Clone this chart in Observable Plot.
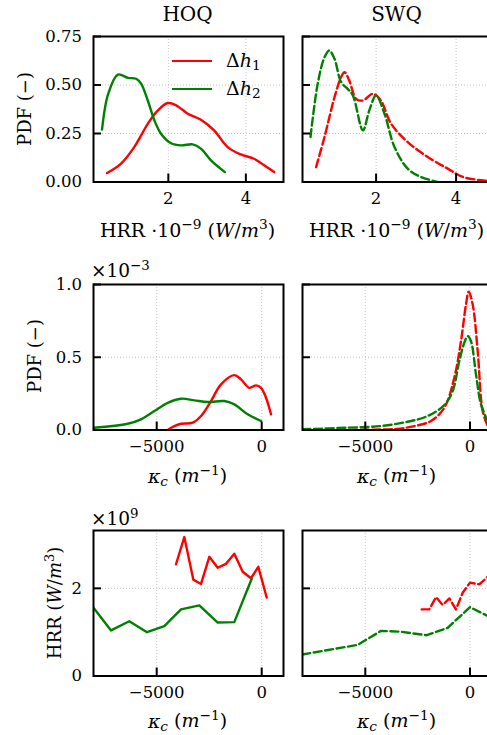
<!DOCTYPE html>
<html><head><meta charset="utf-8">
<script src="https://cdn.jsdelivr.net/npm/d3@7"></script>
<script src="https://cdn.jsdelivr.net/npm/@observablehq/plot@0.6"></script>
<style>
html,body{margin:0;padding:0;background:#fff;overflow:hidden}
#fig{position:relative;width:487px;height:735px;overflow:hidden;font-family:"DejaVu Serif",serif;color:#000}
#fig svg{position:absolute;overflow:visible}
.lbl{position:absolute;white-space:nowrap;line-height:1;transform:translate(-50%,-50%)}
.rot{transform:translate(-50%,-50%) rotate(-90deg)}
.it{font-style:italic}
.sup{font-size:0.72em;vertical-align:0.55em}
.sub{font-size:0.72em;vertical-align:-0.25em}
.leg{position:absolute;height:2.4px}
</style></head>
<body><div id="fig"></div>
<script>
// ---------- data ----------
const seriesNames = ["Δh1", "Δh2"];
const colors = ["#ff0000", "#008000"];
const columnTitles = ["HOQ", "SWQ"];

// Row 1: PDF of HRR (x in 1e9 W/m^3)
const hoqHrrX_h1 = [0.42,0.78,1.12,1.47,1.73,1.98,2.15,2.33,2.5,2.84,3.18,3.53,3.87,4.21,4.47,4.73];
const hoqHrrPdf_h1 = [0.046,0.095,0.18,0.30,0.369,0.407,0.40,0.378,0.352,0.321,0.266,0.18,0.142,0.12,0.086,0.051];
const hoqHrrX_h2 = [0.29,0.45,0.70,0.955,1.17,1.30,1.47,1.64,1.81,2.07,2.33,2.63,2.84,3.10,3.46];
const hoqHrrPdf_h2 = [0.27,0.455,0.554,0.537,0.532,0.506,0.42,0.318,0.249,0.20,0.189,0.194,0.172,0.112,0.051];
const swqHrrX_h1 = [0.5,0.71,0.96,1.125,1.21,1.33,1.5,1.67,1.92,2.12,2.375,2.79,3.29,3.79,4.17,4.625,5.0];
const swqHrrPdf_h1 = [0.077,0.232,0.437,0.54,0.566,0.523,0.429,0.42,0.455,0.42,0.30,0.206,0.129,0.069,0.026,0.009,0.002];
const swqHrrX_h2 = [0.36,0.54,0.71,0.83,0.96,1.125,1.29,1.42,1.67,1.83,2.0,2.21,2.46,2.79,3.12,3.54];
const swqHrrPdf_h2 = [0.232,0.506,0.643,0.678,0.635,0.515,0.48,0.446,0.266,0.369,0.446,0.352,0.18,0.069,0.026,0.0];

// Row 2: PDF of curvature kappa_c (PDF in 1e-3)
const hoqKcX_h1 = [-4476,-4160,-3843,-3286,-2890,-2414,-1938,-1305,-986,-590,-271,-33,205,443];
const hoqKcPdf_h1 = [0,0.027,0.043,0.05,0.096,0.199,0.314,0.377,0.348,0.29,0.307,0.29,0.222,0.108];
const hoqKcX_h2 = [-8000,-6380,-5748,-5114,-4476,-3843,-3210,-2571,-1781,-1305,-667,-33];
const hoqKcPdf_h2 = [0.015,0.043,0.073,0.13,0.187,0.215,0.204,0.192,0.199,0.176,0.108,0.062];
const swqKcX_h1 = [-8000,-5000,-3500,-2660,-1862,-1227,-750,-430,-191,-62,129,368,607,845];
const swqKcPdf_h1 = [0,0.002,0.008,0.027,0.062,0.153,0.359,0.611,0.863,0.95,0.863,0.542,0.13,0.027];
const swqKcX_h2 = [-8000,-5840,-4250,-2975,-2020,-1227,-826,-511,-272,-110,48,286,525,845];
const swqKcPdf_h2 = [0.005,0.016,0.027,0.057,0.096,0.172,0.268,0.474,0.6,0.645,0.61,0.382,0.176,0.062];

// Row 3: conditional mean HRR vs kappa_c (HRR in 1e9)
const hoqCondX_h1 = [-4081,-3686,-3257,-2890,-2495,-2095,-1700,-1305,-905,-510,-162,238];
const hoqCondHrr_h1 = [2.55,3.17,2.2,2.1,2.72,2.47,2.56,2.79,2.38,2.23,2.49,1.79];
const hoqCondX_h2 = [-8000,-7176,-6305,-5462,-4638,-3843,-2971,-2095,-1305,-476];
const hoqCondHrr_h2 = [1.55,1.04,1.25,1.0,1.14,1.52,1.61,1.22,1.23,2.22];
const swqCondX_h1 = [-2307,-1943,-1623,-1304,-986,-669,-349,0,444,845];
const swqCondHrr_h1 = [1.52,1.52,1.8,1.62,1.77,1.52,1.9,2.13,2.09,2.26];
const swqCondX_h2 = [-8008,-5365,-4250,-3295,-2068,-1065,0,845];
const swqCondHrr_h2 = [0.49,0.71,1.03,1.01,0.93,1.10,1.57,1.37];

// ticks
const hrrTicks = [2, 4];
const pdfHrrTicks = [0, 0.25, 0.5, 0.75];
const kcTicks = [-5000, 0];
const pdfKcTicks = [0, 0.5, 1.0];
const condTicks = [0, 2];

// ---------- drawing ----------
const fig = document.getElementById("fig");
const FONT = '"DejaVu Serif", serif';
const FW = 190, FH = 145.5;
const ML = 70, MR = 6, MT = 6, MB = 36;
const TICKFS = 16.5, LABFS = 19;
const fmtMinus = d => (d < 0 ? "\u2212" + Math.abs(d) : String(d));

function pts(xs, ys) { return xs.map((x, i) => ({x, y: ys[i]})); }

function panel({fx, fy, xDomain, yDomain, xTicks, yTicks, yFmt, showY, lines, dashed, curve}) {
  const marks = [
    Plot.gridX(xTicks, {stroke: "#b8b8b8", strokeOpacity: 1, strokeWidth: 0.8, strokeDasharray: "1,2"}),
    Plot.gridY(yTicks, {stroke: "#b8b8b8", strokeOpacity: 1, strokeWidth: 0.8, strokeDasharray: "1,2"}),
  ];
  lines.forEach((l, i) => {
    marks.push(Plot.line(pts(l[0], l[1]), {x: "x", y: "y", stroke: colors[i], strokeWidth: 2.4,
      curve, clip: true, strokeDasharray: dashed ? "8,3.6" : null}));
  });
  marks.push(Plot.tickX(xTicks, {x: d => d, insetTop: FH - 8, stroke: "black", strokeWidth: 2}));
  marks.push(Plot.tickY(yTicks, {y: d => d, insetRight: FW - 8, stroke: "black", strokeWidth: 2}));
  marks.push(Plot.axisX(xTicks, {tickSize: 0, tickPadding: 10.5, tickFormat: fmtMinus, label: null, fontSize: TICKFS}));
  if (showY) marks.push(Plot.axisY(yTicks, {tickSize: 0, tickPadding: 11.5, tickFormat: yFmt, label: null, fontSize: TICKFS}));
  marks.push(Plot.frame({stroke: "black", strokeWidth: 2}));
  const svg = Plot.plot({
    width: FW + ML + MR, height: FH + MT + MB,
    marginLeft: ML, marginRight: MR, marginTop: MT, marginBottom: MB,
    style: {fontFamily: FONT, fontSize: TICKFS + "px", background: "transparent", color: "black"},
    x: {domain: xDomain, label: null},
    y: {domain: yDomain, label: null, axis: showY ? undefined : null},
    marks
  });
  svg.style.left = (fx - ML) + "px";
  svg.style.top = (fy - MT) + "px";
  fig.appendChild(svg);
}

function label(html, cx, cy, size, rot) {
  const d = document.createElement("div");
  d.className = "lbl" + (rot ? " rot" : "");
  d.style.left = cx + "px"; d.style.top = cy + "px";
  d.style.fontSize = size + "px";
  d.innerHTML = html;
  fig.appendChild(d);
}
function labelLeft(html, x, cy, size) {
  const d = document.createElement("div");
  d.className = "lbl";
  d.style.transform = "translate(0,-50%)";
  d.style.left = x + "px"; d.style.top = cy + "px";
  d.style.fontSize = size + "px";
  d.innerHTML = html;
  fig.appendChild(d);
}

const colX = [92.5, 301.5];
const rowY = [36, 283.5, 530];

// Row 1
panel({fx: colX[0], fy: rowY[0], xDomain: [0.07, 4.97], yDomain: [0, 0.75], xTicks: hrrTicks, yTicks: pdfHrrTicks,
  yFmt: d => d.toFixed(2), showY: true, lines: [[hoqHrrX_h1, hoqHrrPdf_h1], [hoqHrrX_h2, hoqHrrPdf_h2]], dashed: false, curve: "catmull-rom"});
panel({fx: colX[1], fy: rowY[0], xDomain: [0.16, 4.91], yDomain: [0, 0.75], xTicks: hrrTicks, yTicks: pdfHrrTicks,
  showY: false, lines: [[swqHrrX_h1, swqHrrPdf_h1], [swqHrrX_h2, swqHrrPdf_h2]], dashed: true, curve: "catmull-rom"});
// Row 2
panel({fx: colX[0], fy: rowY[1], xDomain: [-8010, 1038], yDomain: [0, 1], xTicks: kcTicks, yTicks: pdfKcTicks,
  yFmt: d => d.toFixed(1), showY: true, lines: [[hoqKcX_h1, hoqKcPdf_h1], [hoqKcX_h2, hoqKcPdf_h2]], dashed: false, curve: "catmull-rom"});
panel({fx: colX[1], fy: rowY[1], xDomain: [-7999, 1075], yDomain: [0, 1], xTicks: kcTicks, yTicks: pdfKcTicks,
  showY: false, lines: [[swqKcX_h1, swqKcPdf_h1], [swqKcX_h2, swqKcPdf_h2]], dashed: true, curve: "catmull-rom"});
// Row 3
panel({fx: colX[0], fy: rowY[2], xDomain: [-8010, 1038], yDomain: [0, 3.32], xTicks: kcTicks, yTicks: condTicks,
  yFmt: d => String(d), showY: true, lines: [[hoqCondX_h1, hoqCondHrr_h1], [hoqCondX_h2, hoqCondHrr_h2]], dashed: false, curve: "linear"});
panel({fx: colX[1], fy: rowY[2], xDomain: [-7999, 1075], yDomain: [0, 3.32], xTicks: kcTicks, yTicks: condTicks,
  showY: false, lines: [[swqCondX_h1, swqCondHrr_h1], [swqCondX_h2, swqCondHrr_h2]], dashed: true, curve: "linear"});

// Titles
label(columnTitles[0], 187.5, 14, 20);
label(columnTitles[1], 396.5, 14, 20);

// x labels
const hrrLab = 'HRR &middot;10<span class="sup">\u22129</span> (<span class="it">W</span>/<span class="it">m</span><span class="sup">3</span>)';
const kcLab = '<span class="it">\u03ba<span class="sub">c</span></span> (<span class="it">m</span><span class="sup">\u22121</span>)';
label(hrrLab, 187.5, 229, LABFS);
label(hrrLab, 396.5, 229, LABFS);
label(kcLab, 187.5, 476, LABFS);
label(kcLab, 396.5, 476, LABFS);
label(kcLab, 187.5, 721, LABFS);
label(kcLab, 396.5, 721, LABFS);

// y labels
label('PDF (\u2212)', 25, 108.75, 18, true);
label('PDF (\u2212)', 35, 356, 18, true);
label('HRR (<span class="it">W</span>/<span class="it">m</span><span class="sup">3</span>)', 54, 602.75, 18, true);

// offset multipliers
labelLeft('\u00d710<span class="sup">\u22123</span>', 91, 270, 18.5);
labelLeft('\u00d710<span class="sup">9</span>', 91, 518, 18.5);

// legend
const legY = [61, 89];
legY.forEach((y, i) => {
  const bar = document.createElement("div");
  bar.className = "leg";
  bar.style.left = "172px"; bar.style.top = (y - 1.2) + "px"; bar.style.width = "40px";
  bar.style.background = colors[i];
  fig.appendChild(bar);
  labelLeft('\u0394<span class="it">h</span><span class="sub">' + (i + 1) + '</span>', 226, y + 1, 19);
});
</script></body></html>
